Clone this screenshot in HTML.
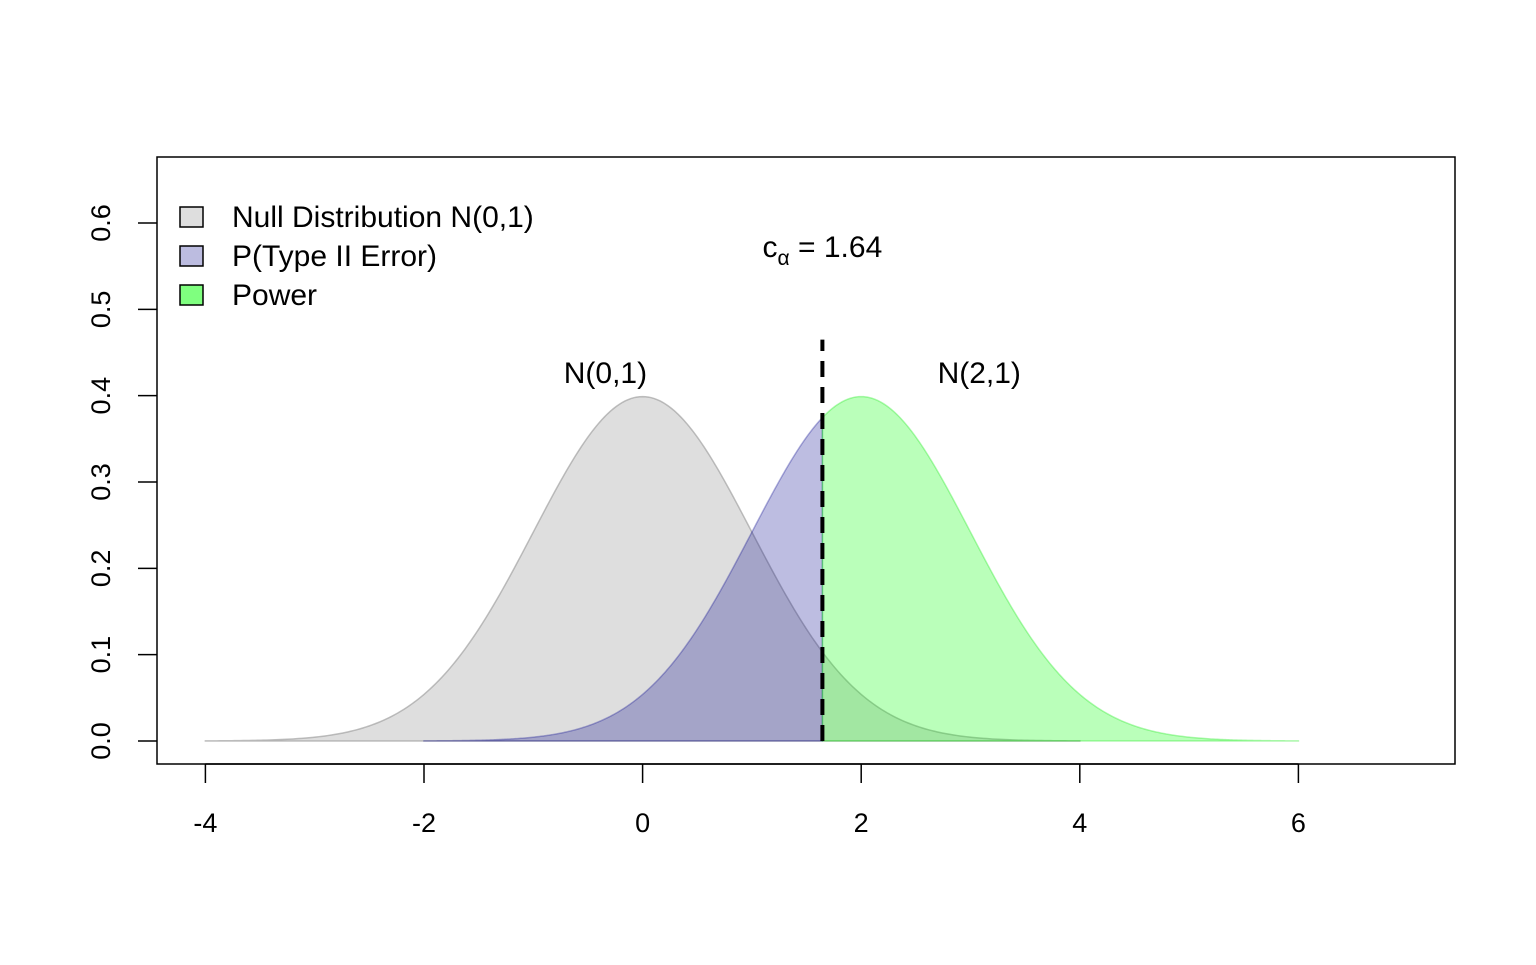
<!DOCTYPE html>
<html><head><meta charset="utf-8"><style>
body{margin:0;background:#fff}
svg{font-family:"Liberation Sans",Arial,sans-serif}
</style></head><body>
<svg id="c" width="1536" height="960" xmlns="http://www.w3.org/2000/svg"></svg>
<script>
const xTicks=[-4,-2,0,2,4,6];
const yTicks=[0.0,0.1,0.2,0.3,0.4,0.5,0.6];
const yTickLabels=["0.0","0.1","0.2","0.3","0.4","0.5","0.6"];
const nullMean=0, altMean=2, sd=1;
const critical=1.645;
const nullRange=[-4,4];
const altRange=[-2,6];
const legendLabels=["Null Distribution N(0,1)","P(Type II Error)","Power"];

const X=v=>642.6+v*109.3;
const Y=v=>741-v*863.3;
const svg=document.getElementById('c');
const NS="http://www.w3.org/2000/svg";
function mk(t,a,txt){const e=document.createElementNS(NS,t);for(const k in a)e.setAttribute(k,a[k]);if(txt!==undefined)e.textContent=txt;svg.appendChild(e);return e;}
const dn=(x,m)=>Math.exp(-0.5*((x-m)/sd)**2)/(sd*Math.sqrt(2*Math.PI));
function area(a,b,m){let d=`M${X(a)},${Y(0)}`;for(let i=0;i<=300;i++){const x=a+(b-a)*i/300;d+=` L${X(x).toFixed(2)},${Y(dn(x,m)).toFixed(2)}`;}return d+` L${X(b)},${Y(0)} Z`;}

let e;
e=mk('path',{d:area(nullRange[0],nullRange[1],nullMean),fill:'rgba(190,190,190,0.5)',stroke:'rgba(150,150,150,0.6)','stroke-width':1.5});

e=mk('path',{d:area(altRange[0],critical,altMean),fill:'rgba(0,0,139,0.26)',stroke:'rgba(0,0,139,0.3)','stroke-width':1.5});

e=mk('path',{d:area(critical,altRange[1],altMean),fill:'rgba(0,255,0,0.27)',stroke:'rgba(0,230,0,0.3)','stroke-width':1.5});

e=mk('line',{x1:X(critical),x2:X(critical),y1:Y(0),y2:Y(0.465),stroke:'#000','stroke-width':4,'stroke-dasharray':'16,10'});


e=mk('rect',{x:157,y:157,width:1298,height:607,fill:'none',stroke:'#000','stroke-width':1.5});


xTicks.forEach(t=>{
 e=mk('line',{x1:X(t),x2:X(t),y1:764,y2:783,stroke:'#000','stroke-width':1.5});
 
 e=mk('text',{x:X(t),y:832,'font-size':27,'text-anchor':'middle'},String(t));
 
});
mk('line',{x1:X(-4),x2:X(6),y1:764,y2:764,stroke:'#000','stroke-width':1.5});
yTicks.forEach((t,i)=>{
 e=mk('line',{x1:138,x2:157,y1:Y(t),y2:Y(t),stroke:'#000','stroke-width':1.5});
 
 e=mk('text',{x:0,y:0,'font-size':27,'text-anchor':'middle',transform:`translate(110,${Y(t)}) rotate(-90)`},yTickLabels[i]);
 
});

e=mk('text',{x:X(-0.34),y:383,'font-size':30,'text-anchor':'middle'},'N(0,1)');

e=mk('text',{x:X(3.08),y:383,'font-size':30,'text-anchor':'middle'},'N(2,1)');

e=mk('text',{x:X(critical),y:257,'font-size':30,'text-anchor':'middle'});

e.innerHTML='c<tspan font-size="21" dy="8">α</tspan><tspan dy="-8"> = 1.64</tspan>';

const legFill=['#dedede','#bcbce0','#7fff7f'];
const legY=[217,256,295];
legendLabels.forEach((l,i)=>{
 e=mk('rect',{x:180,y:legY[i]-10,width:23,height:20,fill:legFill[i],stroke:'#000','stroke-width':1.5});
 
 e=mk('text',{x:232,y:legY[i]+10,'font-size':30},l);
 
});
</script>
</body></html>
